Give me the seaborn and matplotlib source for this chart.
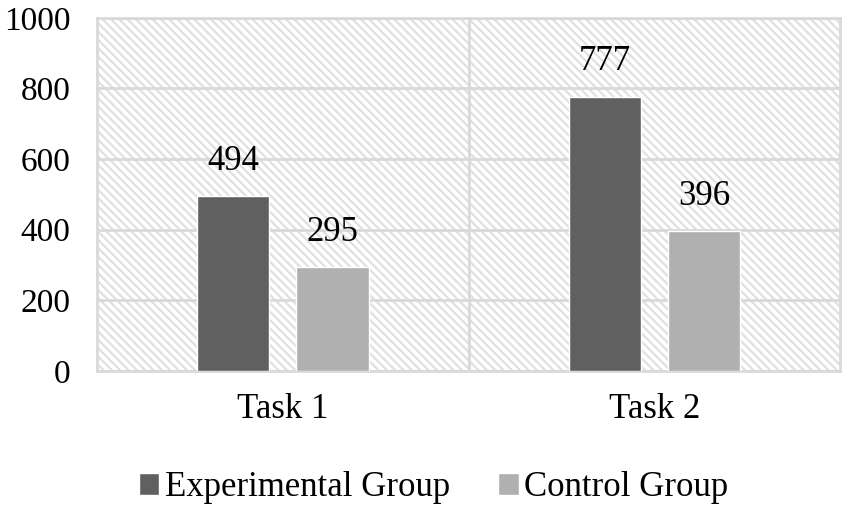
import matplotlib
matplotlib.use("Agg")
import matplotlib.pyplot as plt
from matplotlib.patches import Rectangle, Patch
import seaborn as sns
import pandas as pd

# chart data
tasks = ['Task 1', 'Task 2']
groups = ['Experimental Group', 'Control Group']
experimental = [494, 777]
control = [295, 396]
colors = ['#606060', '#b0b0b0']
yticks = [0, 200, 400, 600, 800, 1000]

df = pd.DataFrame({
    'task': tasks * 2,
    'group': [groups[0]] * 2 + [groups[1]] * 2,
    'value': experimental + control,
})

sns.set_style('white')
plt.rcParams['font.family'] = ['Liberation Serif', 'DejaVu Serif']
plt.rcParams['text.color'] = 'black'
plt.rcParams['xtick.color'] = 'black'
plt.rcParams['ytick.color'] = 'black'
plt.rcParams['hatch.linewidth'] = 1.6
plt.rcParams['hatch.color'] = '#e0e0e0'

grid_c = '#d9d9d9'
fig = plt.figure(figsize=(8.42, 5.08), dpi=100)
ax = fig.add_axes([0.115, 0.27, 0.883, 0.695])

# hatched plot background
bg = Rectangle((0, 0), 1, 1, transform=ax.transAxes, facecolor='white',
               edgecolor='#e0e0e0', hatch='\\\\\\\\', linewidth=0, zorder=0)
ax.add_patch(bg)

sns.barplot(data=df, x='task', y='value', hue='group', palette=colors,
            width=0.534, gap=0.27, ax=ax, legend=False, zorder=3)

for c in ax.containers:
    ax.bar_label(c, padding=13, fontsize=25, color='black')

ax.set_ylim(0, 1000)
ax.set_xlim(-0.5, 1.5)
ax.set_yticks(yticks)
ax.set_yticklabels([str(v) for v in yticks])
ax.yaxis.grid(True, color=grid_c, linewidth=2, zorder=1)
ax.axvline(0.5, color=grid_c, linewidth=2, zorder=1)
ax.set_axisbelow(True)
for s in ax.spines.values():
    s.set_color(grid_c)
    s.set_linewidth(2)
ax.tick_params(axis='y', length=0, pad=19, labelsize=24)
ax.tick_params(axis='x', length=0, pad=16, labelsize=25)
ax.set_xlabel('')
ax.set_ylabel('')

handles = [Patch(facecolor=colors[0]), Patch(facecolor=colors[1])]
fig.legend(handles, groups, loc='center', bbox_to_anchor=(0.515, 0.04), ncol=2,
           frameon=False, fontsize=25, handlelength=0.6, handleheight=0.6,
           handletextpad=0.15, columnspacing=1.4)

fig.savefig('out.png', dpi=100)
